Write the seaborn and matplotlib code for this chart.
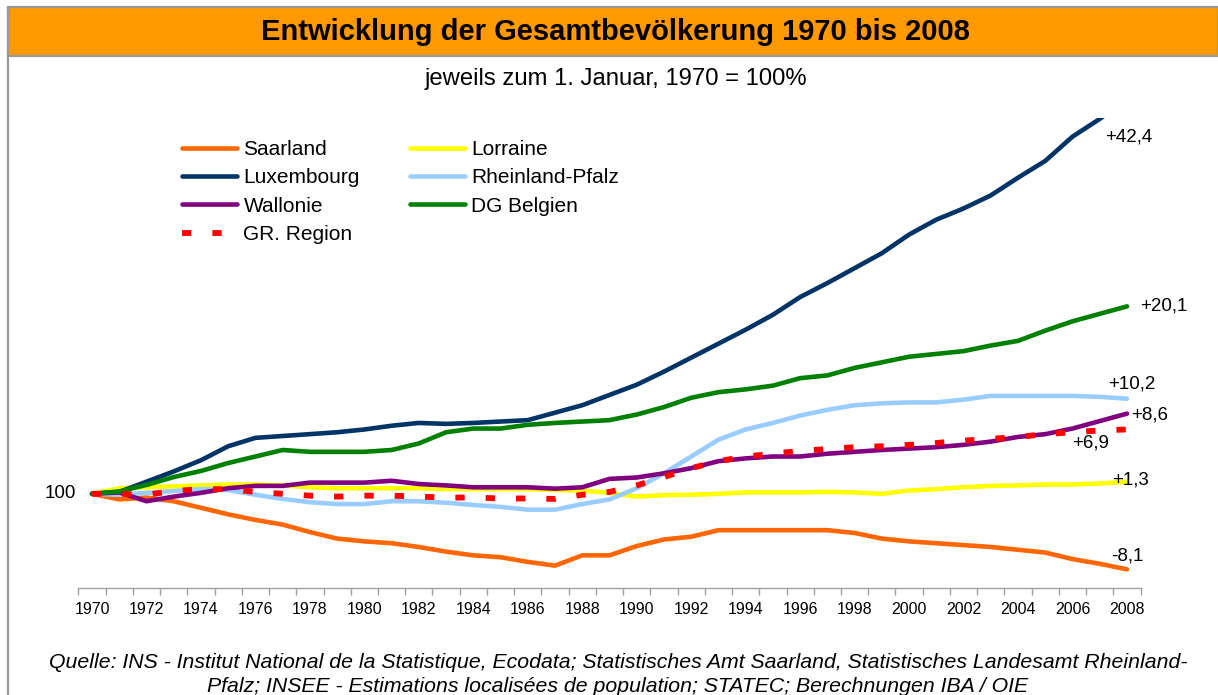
import numpy as np
import pandas as pd
import matplotlib
matplotlib.use("Agg")
import matplotlib.pyplot as plt
import seaborn as sns
from matplotlib.patches import Rectangle
from matplotlib.lines import Line2D

W, H = 1218, 695

years = list(range(1970, 2009))

saarland = [100.0, 99.4, 99.6, 99.2, 98.5, 97.8, 97.2, 96.7, 95.9, 95.2,
            94.9, 94.7, 94.3, 93.8, 93.4, 93.2, 92.7, 92.3, 93.4, 93.4,
            94.4, 95.1, 95.4, 96.1, 96.1, 96.1, 96.1, 96.1, 95.8, 95.2,
            94.9, 94.7, 94.5, 94.3, 94.0, 93.7, 93.0, 92.5, 91.9]
lorraine = [100.0, 100.6, 100.7, 100.8, 100.9, 101.0, 101.0, 100.9, 100.7, 100.6,
            100.6, 100.6, 100.6, 100.5, 100.5, 100.5, 100.5, 100.4, 100.35, 100.1,
            99.7, 99.85, 99.9, 100.0, 100.15, 100.15, 100.15, 100.2, 100.15, 100.0,
            100.35, 100.5, 100.7, 100.85, 100.9, 101.0, 101.0, 101.1, 101.3]
luxembourg = [100.0, 100.2, 101.3, 102.4, 103.6, 105.1, 106.0, 106.2, 106.4, 106.6,
              106.9, 107.3, 107.6, 107.5, 107.6, 107.75, 107.9, 108.7, 109.5, 110.6,
              111.7, 113.1, 114.6, 116.1, 117.6, 119.2, 121.1, 122.6, 124.2, 125.8,
              127.8, 129.4, 130.6, 132.0, 133.9, 135.7, 138.3, 140.2, 142.4]
rheinland_pfalz = [100.0, 99.9, 100.1, 100.3, 100.5, 100.4, 99.9, 99.45, 99.1, 98.9,
                   98.9, 99.2, 99.2, 99.05, 98.8, 98.6, 98.3, 98.3, 98.9, 99.4,
                   100.6, 102.2, 104.0, 105.8, 106.9, 107.6, 108.4, 109.0, 109.5, 109.7,
                   109.8, 109.8, 110.1, 110.5, 110.5, 110.5, 110.5, 110.4, 110.2]
wallonie = [100.0, 100.15, 99.2, 99.7, 100.1, 100.6, 100.85, 100.85, 101.2, 101.2,
            101.2, 101.4, 101.05, 100.9, 100.7, 100.7, 100.7, 100.55, 100.7, 101.6,
            101.75, 102.2, 102.75, 103.5, 103.8, 104.0, 104.0, 104.3, 104.5, 104.7,
            104.85, 105.0, 105.25, 105.6, 106.1, 106.4, 107.0, 107.8, 108.6]
dg_belgien = [100.0, 100.25, 100.95, 101.8, 102.45, 103.3, 104.0, 104.7, 104.5, 104.5,
              104.5, 104.7, 105.4, 106.6, 107.0, 107.0, 107.4, 107.6, 107.75, 107.9,
              108.5, 109.3, 110.3, 110.9, 111.2, 111.6, 112.4, 112.7, 113.5, 114.1,
              114.7, 115.0, 115.3, 115.9, 116.4, 117.5, 118.5, 119.3, 120.1]
gr_region = [100.0, 100.0, 99.9, 100.3, 100.5, 100.5, 100.2, 100.0, 99.8, 99.7,
             99.8, 99.8, 99.7, 99.6, 99.6, 99.5, 99.5, 99.45, 99.9, 100.2,
             100.9, 101.8, 102.75, 103.5, 104.0, 104.3, 104.6, 104.8, 105.0, 105.1,
             105.25, 105.45, 105.7, 105.9, 106.1, 106.4, 106.6, 106.8, 106.9]

names = ["Saarland", "Lorraine", "Luxembourg", "Rheinland-Pfalz",
         "Wallonie", "DG Belgien", "GR. Region"]
series = [saarland, lorraine, luxembourg, rheinland_pfalz, wallonie, dg_belgien, gr_region]
colors = ["#FF6600", "#FFFF00", "#003366", "#99CCFF", "#800080", "#008000", "#FF0000"]

end_labels = ["-8,1", "+1,3", "+42,4", "+10,2", "+8,6", "+20,1", "+6,9"]
end_label_pos = [(2007.4, 93.35), (2007.45, 101.5), (2007.2, 138.3), (2007.3, 111.8),
                 (2008.15, 108.4), (2008.5, 120.15), (2006.0, 105.4)]

df = pd.DataFrame({
    "year": years * len(names),
    "value": sum(series, []),
    "region": np.repeat(names, len(years)),
})

sns.set_style("white")
plt.rcParams["font.family"] = ["Liberation Sans", "DejaVu Sans"]
plt.rcParams["text.color"] = "black"
plt.rcParams["xtick.color"] = "black"

fig = plt.figure(figsize=(W / 100, H / 100), dpi=100)
ax = fig.add_axes([78.4 / W, 1 - 588 / H, (1140.6 - 78.4) / W, (588 - 118) / H])

for name, col in zip(names, colors):
    sub = df[df["region"] == name]
    if name == "GR. Region":
        sns.lineplot(data=sub, x="year", y="value", ax=ax, color=col, lw=4.2,
                     label=name, linestyle=(0, (1.6, 3.6)))
    else:
        sns.lineplot(data=sub, x="year", y="value", ax=ax, color=col, lw=3.3,
                     label=name, solid_capstyle="round")

ax.set_xlim(1969.5, 2008.5)
ax.set_ylim(89.9, 140.3)
ax.set_xlabel("")
ax.set_ylabel("")
ax.set_yticks([])

ax.set_xticks(np.arange(1970, 2009, 2))
ax.set_xticklabels([str(y) for y in range(1970, 2009, 2)], fontsize=11.5)
ax.set_xticks(np.arange(1969.5, 2009, 1), minor=True)
ax.tick_params(axis="x", which="major", bottom=True, length=0, pad=10, labelcolor="black")
ax.tick_params(axis="x", which="minor", bottom=True, length=5, width=1,
               color="#A0A0A0", direction="out")

for s in ["top", "right", "left"]:
    ax.spines[s].set_visible(False)
ax.spines["bottom"].set_color("#A0A0A0")
ax.spines["bottom"].set_linewidth(1)

# end labels
for txt, (xx, yy) in zip(end_labels, end_label_pos):
    ax.text(xx, yy, txt, fontsize=13.5, ha="left", va="center", clip_on=False)
ax.text(1969.4, 100, "100", fontsize=13.5, ha="right", va="center", clip_on=False)

# legend
handles, labels = ax.get_legend_handles_labels()
order = ["Saarland", "Luxembourg", "Wallonie", "GR. Region",
         "Lorraine", "Rheinland-Pfalz", "DG Belgien"]
hmap = dict(zip(labels, handles))
if ax.legend_:
    ax.legend_.remove()
fig.legend([hmap[o] for o in order], order, ncol=2, frameon=False,
           loc="upper left", bbox_to_anchor=(182 / W, 1 - 140 / H),
           fontsize=15, handlelength=2.65, handletextpad=0.3,
           columnspacing=2.4, labelspacing=0.45, borderpad=0, borderaxespad=0)

# title band and frame
fig.patches.append(Rectangle((8 / W, 1 - 56 / H), 1 - 8 / W, 49 / H, transform=fig.transFigure,
                             facecolor="#FF9900", edgecolor="#999999", lw=1.6, zorder=0))
fig.lines.append(Line2D([8 / W, 8 / W], [0, 1 - 7 / H], transform=fig.transFigure,
                        color="#999999", lw=1.6))
fig.text(615 / W, 1 - 32 / H, "Entwicklung der Gesamtbevölkerung 1970 bis 2008",
         ha="center", va="center", fontsize=21, fontweight="bold")
fig.text(616 / W, 1 - 79 / H, "jeweils zum 1. Januar, 1970 = 100%",
         ha="center", va="center", fontsize=17.2)

fig.text(618 / W, 1 - 662 / H,
         "Quelle: INS - Institut National de la Statistique, Ecodata; Statistisches Amt Saarland, "
         "Statistisches Landesamt Rheinland-",
         ha="center", va="center", fontsize=15.3, style="italic")
fig.text(618 / W, 1 - 686 / H,
         "Pfalz; INSEE - Estimations localisées de population; STATEC; Berechnungen IBA / OIE",
         ha="center", va="center", fontsize=15.3, style="italic")

fig.savefig("out.png", dpi=100)
